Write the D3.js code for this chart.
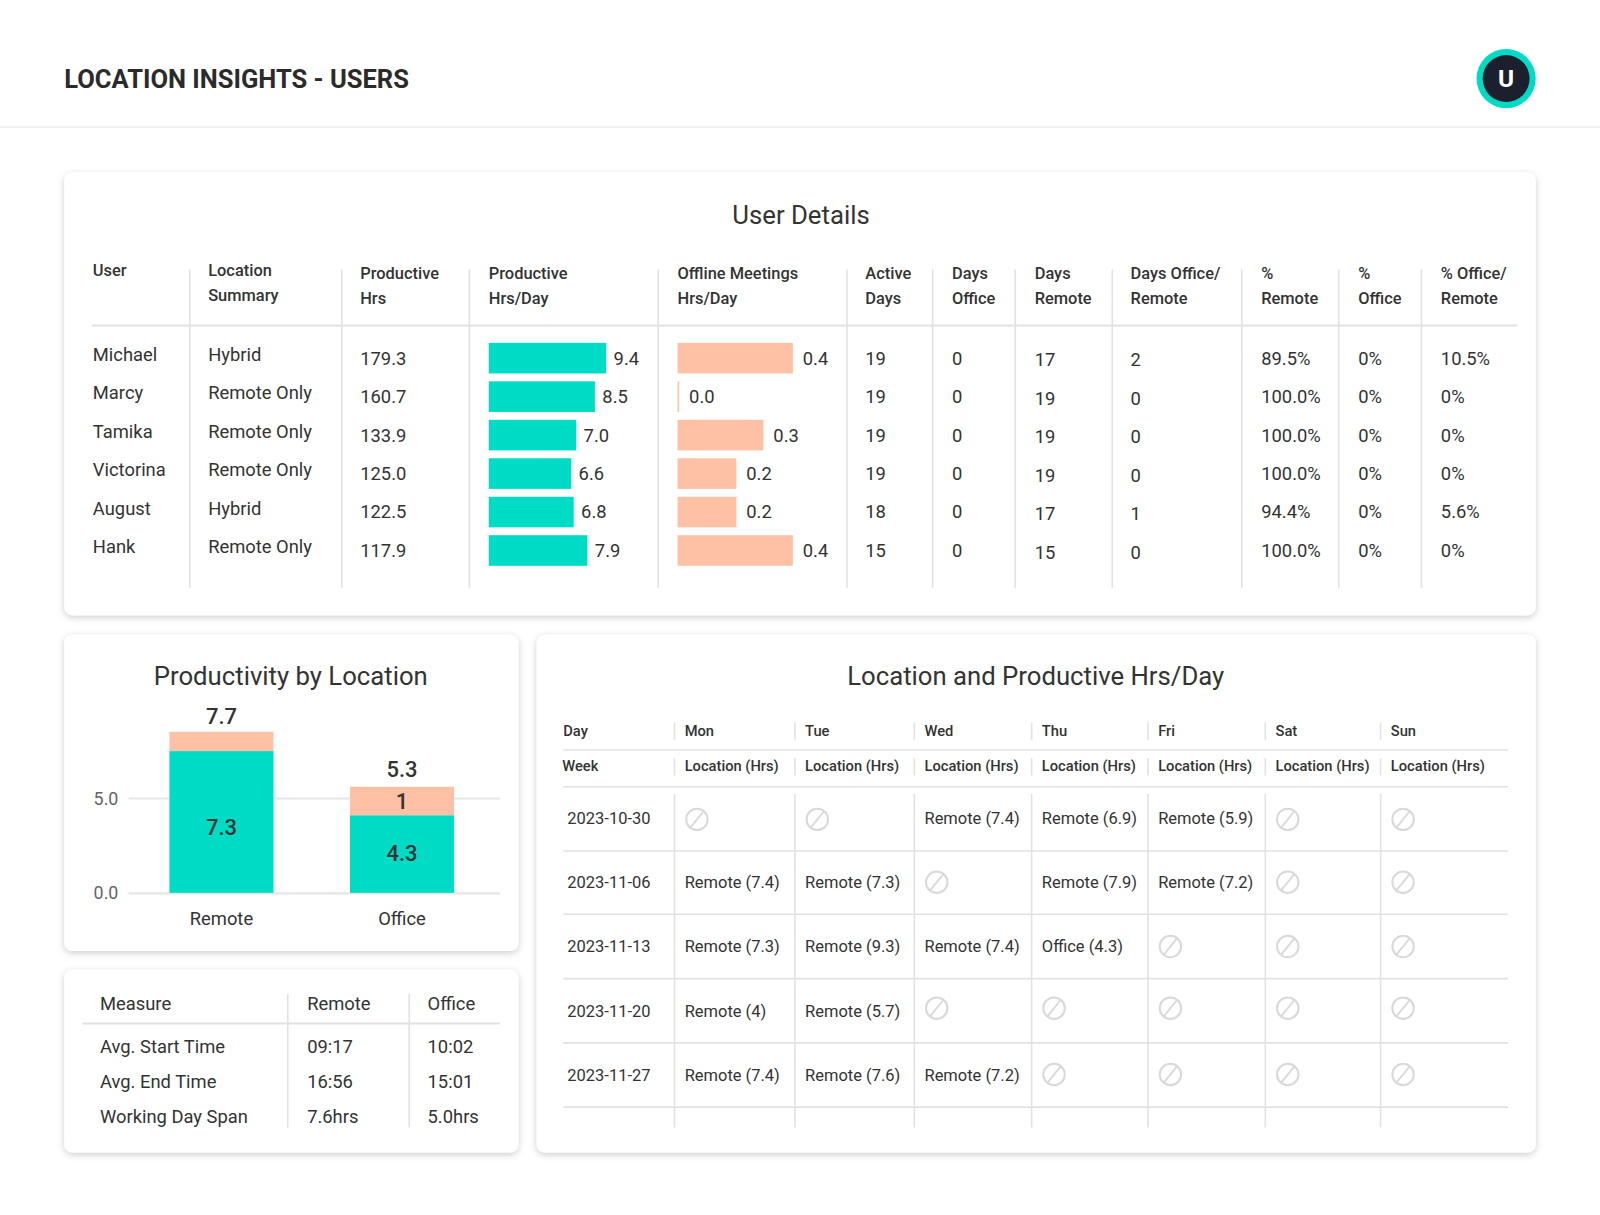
<!DOCTYPE html>
<html><head><meta charset="utf-8">
<script src="https://cdn.jsdelivr.net/npm/d3@7/dist/d3.min.js"></script>
<style>
html,body{margin:0;padding:0;background:#fff}
svg{display:block}
text{font-family:Roboto,sans-serif;fill:#333}
</style></head><body>
<svg id="c" width="1600" height="1215" viewBox="0 0 1568 1190.7"></svg>
<script>
const TEAL="#00dbc5",PEACH="#ffc1a6",RULE="#e2e2e2",INK="#333";

// User Details data
const users=["Michael","Marcy","Tamika","Victorina","August","Hank"];
const summary=["Hybrid","Remote Only","Remote Only","Remote Only","Hybrid","Remote Only"];
const productiveHrs=["179.3","160.7","133.9","125.0","122.5","117.9"];
const productiveDay=[9.4,8.5,7.0,6.6,6.8,7.9];
const offlineDay=[0.4,0.0,0.298,0.204,0.204,0.4];
const activeDays=[19,19,19,19,18,15];
const daysOffice=[0,0,0,0,0,0];
const daysRemote=[17,19,19,19,17,15];
const daysBoth=[2,0,0,0,1,0];
const pctRemote=["89.5%","100.0%","100.0%","100.0%","94.4%","100.0%"];
const pctOffice=["0%","0%","0%","0%","0%","0%"];
const pctBoth=["10.5%","0%","0%","0%","5.6%","0%"];
const detailHeaders=[["User"],["Location","Summary"],["Productive","Hrs"],["Productive","Hrs/Day"],["Offline Meetings","Hrs/Day"],["Active","Days"],["Days","Office"],["Days","Remote"],["Days Office/","Remote"],["%","Remote"],["%","Office"],["% Office/","Remote"]];

// Productivity by Location data (bar lengths, labels as printed)
const locations=["Remote","Office"];
const productiveBar=[7.47,4.09];
const offlineBar=[1.02,1.5];
const productiveLabels=["7.3","4.3"];
const offlineLabels=["","1"];
const totalLabels=["7.7","5.3"];
const yTicks=[0,5];

// Measures
const measureHeaders=["Measure","Remote","Office"];
const measures=["Avg. Start Time","Avg. End Time","Working Day Span"];
const measureRemote=["09:17","16:56","7.6hrs"];
const measureOffice=["10:02","15:01","5.0hrs"];

// Calendar
const days=["Mon","Tue","Wed","Thu","Fri","Sat","Sun"];
const weeks=["2023-10-30","2023-11-06","2023-11-13","2023-11-20","2023-11-27"];
const mon=[null,"Remote (7.4)","Remote (7.3)","Remote (4)","Remote (7.4)"];
const tue=[null,"Remote (7.3)","Remote (9.3)","Remote (5.7)","Remote (7.6)"];
const wed=["Remote (7.4)",null,"Remote (7.4)",null,"Remote (7.2)"];
const thu=["Remote (6.9)","Remote (7.9)","Office (4.3)",null,null];
const fri=["Remote (5.9)","Remote (7.2)",null,null,null];
const sat=[null,null,null,null,null];
const sun=[null,null,null,null,null];

const svg=d3.select("#c");
const defs=svg.append("defs");
const f=defs.append("filter").attr("id","sh").attr("x","-5%").attr("y","-10%").attr("width","110%").attr("height","120%");
f.append("feDropShadow").attr("dx",0).attr("dy",2).attr("stdDeviation",3.5).attr("flood-color","#000").attr("flood-opacity",0.2);

function txt(g,x,y,s,o={}){
  return g.append("text").attr("x",x).attr("y",y).text(s)
    .attr("font-size",o.size||18).attr("font-weight",o.weight||400)
    .attr("text-anchor",o.anchor||"start").style("fill",o.fill||INK);
}
function rule(g,x1,y1,x2,y2,w=2,c=RULE){
  g.append("line").attr("x1",x1).attr("y1",y1).attr("x2",x2).attr("y2",y2).attr("stroke",c).attr("stroke-width",w);
}
function card(x,y,w,h){
  svg.append("rect").attr("x",x).attr("y",y).attr("width",w).attr("height",h).attr("rx",8).attr("fill","#fff").attr("filter","url(#sh)");
}

// header
txt(svg,63,86.5,"LOCATION INSIGHTS - USERS",{size:25,weight:700,fill:"#2b2b2b"});
rule(svg,0,124.5,1568,124.5,1.5,"#ececec");
svg.append("circle").attr("cx",1476).attr("cy",77).attr("r",29).attr("fill",TEAL);
svg.append("circle").attr("cx",1476).attr("cy",77).attr("r",23).attr("fill","#1b1f2e");
txt(svg,1476,85.5,"U",{size:24,weight:700,anchor:"middle",fill:"#fff"});

// User Details
card(63,169,1442,434);
const ud=svg.append("g");
txt(ud,785,220,"User Details",{size:25.2,anchor:"middle"});
const colLines=[186,335,460,645,830,914,995,1090,1217,1312,1393];
colLines.forEach(x=>rule(ud,x,264,x,576,1.6));
rule(ud,90,319,1487,319);
const headX=[91,204,353,479,664,848,933,1014,1108,1236,1331,1412];
detailHeaders.forEach((h,i)=>{
  const y0=i<2?270:273;
  h.forEach((t,j)=>txt(ud,headX[i],y0+j*25,t,{size:16.1,weight:500,fill:"#333"}));
});
const rowY=d3.scaleLinear().domain([0,5]).range([351,539.5]);
const textCols=[[users,91,2.6],[summary,204,2.6],[productiveHrs,353,6.3],[activeDays,848,6.3],[daysOffice,933,6.3],[daysRemote,1014,8],[daysBoth,1108,8],[pctRemote,1236,6.3],[pctOffice,1331,6.3],[pctBoth,1412,6.3]];
textCols.forEach(([vals,x,dy])=>{
  ud.append("g").selectAll("text").data(vals).join("text")
    .attr("x",x).attr("y",(d,i)=>rowY(i)+dy).attr("font-size",18).text(d=>d);
});
const xProd=d3.scaleLinear().domain([0,9.4]).range([0,115]);
const xOff=d3.scaleLinear().domain([0,0.4]).range([0,113]);
function barCol(vals,scale,x0,color,gap){
  const g=ud.append("g");
  g.selectAll("rect").data(vals).join("rect")
    .attr("x",x0).attr("y",(d,i)=>rowY(i)-15).attr("height",30)
    .attr("width",d=>Math.max(scale(d),1.6)).attr("fill",color);
  g.selectAll("text").data(vals).join("text")
    .attr("x",d=>x0+Math.max(scale(d),1.6)+gap).attr("y",(d,i)=>rowY(i)+6.3)
    .attr("font-size",18).text(d=>d.toFixed(1));
}
barCol(productiveDay,xProd,479,TEAL,7.3);
barCol(offlineDay,xOff,664,PEACH,9.7);

// Productivity by Location
card(63,622,445,310);
const pl=svg.append("g");
txt(pl,285,671.5,"Productivity by Location",{size:25.2,anchor:"middle"});
const x=d3.scaleBand().domain(locations).range([128.5,482.5]).paddingInner(0.4237).paddingOuter(0.212);
const y=d3.scaleLinear().domain([0,5]).range([875,782]);
const yAxis=d3.axisLeft(y).tickValues(yTicks).tickFormat(d3.format(".1f")).tickSize(0).tickPadding(10);
const ax=pl.append("g").attr("transform","translate(126,0)").call(yAxis);
ax.select(".domain").remove();
ax.selectAll("line").attr("x2",364).attr("stroke","#e6e6e6").attr("stroke-width",2);
ax.selectAll("text").attr("font-size",17.5).style("fill","#666").style("font-family","Roboto").attr("dy","0.34em");
pl.append("g").selectAll("rect").data(productiveBar).join("rect")
  .attr("x",(d,i)=>x(locations[i])).attr("width",x.bandwidth())
  .attr("y",d=>y(d)).attr("height",d=>y(0)-y(d)).attr("fill",TEAL);
pl.append("g").selectAll("rect").data(offlineBar).join("rect")
  .attr("x",(d,i)=>x(locations[i])).attr("width",x.bandwidth())
  .attr("y",(d,i)=>y(productiveBar[i]+d)).attr("height",d=>y(0)-y(d)).attr("fill",PEACH);
const cx=l=>x(l)+x.bandwidth()/2;
pl.append("g").selectAll("text").data(locations).join("text").attr("x",cx).attr("y",906.5)
  .attr("text-anchor","middle").attr("font-size",18).text(d=>d);
const totalLift=[8,10], productiveDrop=[13,7];
pl.append("g").selectAll("text").data(totalLabels).join("text")
  .attr("x",(d,i)=>cx(locations[i])).attr("y",(d,i)=>y(productiveBar[i]+offlineBar[i])-totalLift[i])
  .attr("text-anchor","middle").attr("font-size",21.5).attr("font-weight",500).text(d=>d);
pl.append("g").selectAll("text").data(productiveLabels).join("text")
  .attr("x",(d,i)=>cx(locations[i])).attr("y",(d,i)=>(y(0)+y(productiveBar[i]))/2+productiveDrop[i])
  .attr("text-anchor","middle").attr("font-size",21.5).attr("font-weight",500).text(d=>d);
pl.append("g").selectAll("text").data(offlineLabels).join("text")
  .attr("x",(d,i)=>cx(locations[i])).attr("y",(d,i)=>(y(productiveBar[i])+y(productiveBar[i]+offlineBar[i]))/2+8)
  .attr("text-anchor","middle").attr("font-size",21.5).attr("font-weight",500).text(d=>d);

// Measures
card(63,950,445,179.5);
const ms=svg.append("g");
[282,401].forEach(xx=>rule(ms,xx,974,xx,1105,1.6));
rule(ms,81,1003,490,1003);
const mX=[98,301,419];
measureHeaders.forEach((t,i)=>txt(ms,mX[i],989.7,t,{size:18}));
const mY=d3.scaleLinear().domain([0,2]).range([1032.4,1100.4]);
[measures,measureRemote,measureOffice].forEach((vals,c)=>{
  ms.append("g").selectAll("text").data(vals).join("text")
    .attr("x",mX[c]).attr("y",(d,i)=>mY(i)).attr("font-size",18).text(d=>d);
});

// Location and Productive Hrs/Day
card(526,622,979,507.5);
const lc=svg.append("g");
txt(lc,1015,671.5,"Location and Productive Hrs/Day",{size:25.2,anchor:"middle"});
const dayLines=[661,779,896,1011,1125,1240,1353];
dayLines.forEach(xx=>{
  rule(lc,xx,708,xx,725,1.6);
  rule(lc,xx,743,xx,760,1.6);
  rule(lc,xx,778,xx,1105,1.6);
});
[735,771,834,896,959,1022,1085].forEach(yy=>rule(lc,552,yy,1478,yy,1.6));
txt(lc,552,721.6,"Day",{size:14.4,weight:500});
txt(lc,551,756,"Week",{size:14.4,weight:500});
days.forEach((d,i)=>{
  txt(lc,dayLines[i]+10,721.6,d,{size:14.4,weight:500});
  txt(lc,dayLines[i]+10,756,"Location (Hrs)",{size:14.4,weight:500});
});
const weekBase=[808,870.6,933.2,996.5,1059.2];
const iconY=[803,864.6,927.6,988,1053];
weeks.forEach((w,i)=>txt(lc,556,weekBase[i],w,{size:16.15}));
[mon,tue,wed,thu,fri,sat,sun].forEach((col,c)=>{
  col.forEach((v,r)=>{
    const left=dayLines[c];
    if(v) txt(lc,left+10,weekBase[r],v,{size:16.15});
    else{
      const ic=lc.append("g").attr("transform",`translate(${left+22},${iconY[r]})`);
      ic.append("circle").attr("r",10.5).attr("fill","none").attr("stroke","#d9d9d9").attr("stroke-width",2);
      ic.append("line").attr("x1",6.5).attr("y1",-8).attr("x2",-6.5).attr("y2",8).attr("stroke","#d9d9d9").attr("stroke-width",1.8);
    }
  });
});
</script></body></html>
